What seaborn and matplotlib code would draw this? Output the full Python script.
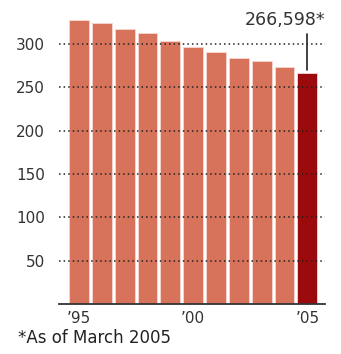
import matplotlib
matplotlib.use("Agg")
import matplotlib.pyplot as plt
import seaborn as sns
import pandas as pd

years = [1995, 1996, 1997, 1998, 1999, 2000, 2001, 2002, 2003, 2004, 2005]
values = [328, 324, 317, 312, 303, 296, 291, 284, 280, 273, 266.598]
bar_colors = ["#d8735b"] * 10 + ["#9b0a0c"]
tick_labels = ["\u201995", "", "", "", "", "\u201900", "", "", "", "", "\u201905"]
yticks = [50, 100, 150, 200, 250, 300]
callout = "266,598*"
footnote = "*As of March 2005"

sns.set_style("white")
plt.rcParams["font.family"] = ["DejaVu Sans"]

df = pd.DataFrame({"year": [str(y) for y in years], "value": values})

fig = plt.figure(figsize=(3.41, 3.54), dpi=100)
ax = fig.add_axes([0.173, 0.141, 0.78, 0.833])

sns.barplot(data=df, x="year", y="value", hue="year", palette=bar_colors,
            legend=False, width=0.87, edgecolor="#f6d8d0", linewidth=0.6,
            saturation=1, ax=ax, zorder=2)

ax.set_ylim(0, 340)
ax.set_xlim(-0.875, 10.77)
ax.set_yticks(yticks)
ax.set_yticklabels([str(t) for t in yticks], fontsize=11, color="#333333")
ax.set_xticks(range(len(years)))
ax.set_xticklabels(tick_labels, fontsize=11, color="#333333")
ax.tick_params(axis="y", length=0, pad=10)
ax.tick_params(axis="x", length=0, pad=5)
ax.set_xlabel("")
ax.set_ylabel("")

for t in yticks:
    ax.axhline(t, color="#222222", linestyle=(0, (1, 2.0)), linewidth=1.1, zorder=3)

for s in ["top", "right", "left"]:
    ax.spines[s].set_visible(False)
ax.spines["bottom"].set_color("#333333")
ax.spines["bottom"].set_linewidth(1.3)
ax.spines["bottom"].set_zorder(4)

last = len(years) - 1
ax.plot([last, last], [values[-1] + 3, 311], color="#333333", linewidth=1.3,
        zorder=4, clip_on=False)
ax.text(last + 0.77, 317, callout, ha="right", va="bottom", fontsize=12.5,
        color="#333333", clip_on=False)

fig.text(0.052, 0.046, footnote, fontsize=12, color="#222222", ha="left", va="center")

fig.savefig("out.png", dpi=100)
